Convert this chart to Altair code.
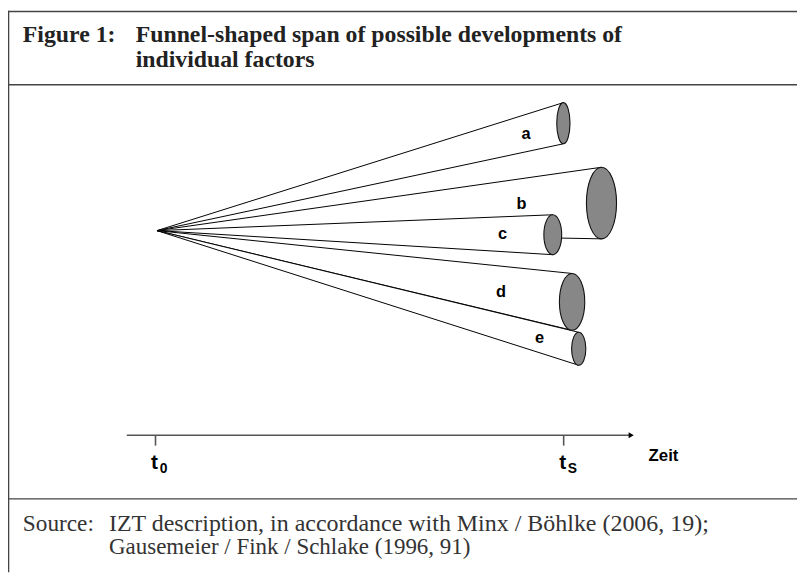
import altair as alt
import pandas as pd

# ---------------- data (diagram coordinates, page-pixel units) ----------------
apex_x = 158.5
apex_y = 230.0

cone_names = ["a", "b", "c", "d", "e"]
cone_end_x = [569.0, 607.5, 558.3, 577.8, 584.5]
cone_top = [100.7, 166.0, 214.0, 273.3, 332.7]
cone_bottom = [142.3, 238.3, 254.3, 330.7, 366.0]
cone_rx = [6.7, 15.2, 9.0, 12.8, 7.2]
label_x = [531.3, 526.7, 507.5, 506.0, 545.0]
label_y = [137.3, 207.7, 238.0, 296.7, 344.0]

axis_start = 128.0
axis_end = 640.7
axis_y = 436.7
tick_x = [157.0, 569.3]
tick_names = ["t", "t"]
tick_subs = ["0", "S"]

title_texts = ["Figure 1:", "Funnel-shaped span of possible developments of", "individual factors"]
title_x = [23, 137, 137]
title_y = [39, 39, 65]

source_texts = ["Source:", "IZT description, in accordance with Minx / Böhlke (2006, 19);",
                "Gausemeier / Fink / Schlake (1996, 91)"]
source_x = [23, 110, 110]
source_y = [533, 533, 557]
source_fs = [23.5, 24.2, 23.2]

frame_h_y = [8.6, 82.7, 501.0]
frame_v_x = [8.6]

# ---------------- tables ----------------
def X():
    return alt.X("x:Q", scale=alt.Scale(domain=[8, 805], nice=False, zero=False), axis=None)


def Y():
    return alt.Y("y:Q", scale=alt.Scale(domain=[8, 575], nice=False, zero=False, reverse=True),
                 axis=None, stack=None)


rows = []
for n, ex, t, b in zip(cone_names, cone_end_x, cone_top, cone_bottom):
    rows.append({"cone": n, "x": apex_x, "y": apex_y, "y2": apex_y})
    rows.append({"cone": n, "x": ex, "y": t, "y2": b})
cones = pd.DataFrame(rows)

K = 0.5523
ell = []
for n, ex, t, b, rx in zip(cone_names, cone_end_x, cone_top, cone_bottom, cone_rx):
    ry = (b - t) / 2
    k = rx / ry
    path = (f"M0,-1 C{k*K:.4f},-1 {k:.4f},-{K} {k:.4f},0 "
            f"C{k:.4f},{K} {k*K:.4f},1 0,1 "
            f"C{-k*K:.4f},1 {-k:.4f},{K} {-k:.4f},0 "
            f"C{-k:.4f},-{K} {-k*K:.4f},-1 0,-1 Z")
    ell.append({"cone": n, "x": ex, "y": (t + b) / 2, "shape": path, "size": (2 * ry) ** 2})
ellipses = pd.DataFrame(ell)

labels = pd.DataFrame({"x": label_x, "y": label_y, "text": cone_names})

cone_layers = []
for n in cone_names:
    cone_layers.append(
        alt.Chart(cones[cones["cone"] == n]).mark_area(
            fill="white", stroke="black", strokeWidth=1, fillOpacity=1, opacity=1
        ).encode(x=X(), y=Y(), y2="y2:Q")
    )

ellipse_layer = alt.Chart(ellipses).mark_point(
    filled=True, fill="#878787", stroke="#111111", strokeWidth=1.1, fillOpacity=1, strokeOpacity=1
).encode(x=X(), y=Y(), shape=alt.Shape("shape:N", scale=None), size=alt.Size("size:Q", scale=None))

label_layer = alt.Chart(labels).mark_text(
    font="Liberation Sans", fontWeight="bold", fontSize=16.5, align="center", baseline="alphabetic", color="black"
).encode(x=X(), y=Y(), text="text:N")

# time axis
axis_df = pd.DataFrame({"x": [axis_start], "x2": [axis_end - 4], "y": [axis_y]})
axis_layer = alt.Chart(axis_df).mark_rule(color="#555555", strokeWidth=1.6).encode(x=X(), x2="x2:Q", y=Y())
arrow_df = pd.DataFrame({"x": [axis_end - 3.2], "y": [axis_y]})
arrow_layer = alt.Chart(arrow_df).mark_point(
    shape="triangle-right", filled=True, color="black", size=36, opacity=1
).encode(x=X(), y=Y())
ticks_df = pd.DataFrame({"x": tick_x, "y": [axis_y] * 2, "y2": [axis_y + 10.5] * 2})
ticks_layer = alt.Chart(ticks_df).mark_rule(color="#555555", strokeWidth=1.6).encode(x=X(), y=Y(), y2="y2:Q")

tmain_df = pd.DataFrame({"x": [tick_x[0] - 4.5, tick_x[1] - 4.5], "y": [470.5, 470.5], "text": tick_names})
tmain_layer = alt.Chart(tmain_df).mark_text(
    font="Liberation Sans", fontWeight="bold", fontSize=21, align="left", baseline="alphabetic", color="black"
).encode(x=X(), y=Y(), text="text:N")
tsub_df = pd.DataFrame({"x": [tick_x[0] + 4.3, tick_x[1] + 4.0], "y": [475, 475], "text": tick_subs})
tsub_layer = alt.Chart(tsub_df).mark_text(
    font="Liberation Sans", fontWeight="bold", fontSize=14, align="left", baseline="alphabetic", color="black"
).encode(x=X(), y=Y(), text="text:N")
zeit_df = pd.DataFrame({"x": [655], "y": [463], "text": ["Zeit"]})
zeit_layer = alt.Chart(zeit_df).mark_text(
    font="Liberation Sans", fontWeight="bold", fontSize=17, align="left", baseline="alphabetic", color="black"
).encode(x=X(), y=Y(), text="text:N")

# frame
fh_df = pd.DataFrame({"x": [8] * len(frame_h_y), "x2": [805] * len(frame_h_y), "y": frame_h_y})
fh_layer = alt.Chart(fh_df).mark_rule(color="#444444", strokeWidth=1.4).encode(x=X(), x2="x2:Q", y=Y())
fv_df = pd.DataFrame({"x": frame_v_x, "y": [8], "y2": [575]})
fv_layer = alt.Chart(fv_df).mark_rule(color="#444444", strokeWidth=1.4).encode(x=X(), y=Y(), y2="y2:Q")

title_df = pd.DataFrame({"x": title_x, "y": title_y, "text": title_texts})
title_layer = alt.Chart(title_df).mark_text(
    font="Liberation Serif", fontWeight="bold", fontSize=24, align="left", baseline="alphabetic", color="#222222"
).encode(x=X(), y=Y(), text="text:N")
source_df = pd.DataFrame({"x": source_x, "y": source_y, "text": source_texts, "fs": source_fs})
source_layer = alt.Chart(source_df).mark_text(
    font="Liberation Serif", align="left", baseline="alphabetic", color="#333333"
).encode(x=X(), y=Y(), text="text:N", size=alt.Size("fs:Q", scale=None))

chart = alt.layer(
    fh_layer, fv_layer, title_layer, source_layer,
    *cone_layers, ellipse_layer, label_layer,
    axis_layer, arrow_layer, ticks_layer, tmain_layer, tsub_layer, zeit_layer,
).properties(
    width=797, height=567, padding=0, autosize=alt.AutoSizeParams(type="none")
).configure_view(stroke=None)

chart.save("out.html", embed_options={"renderer": "svg", "actions": False})
